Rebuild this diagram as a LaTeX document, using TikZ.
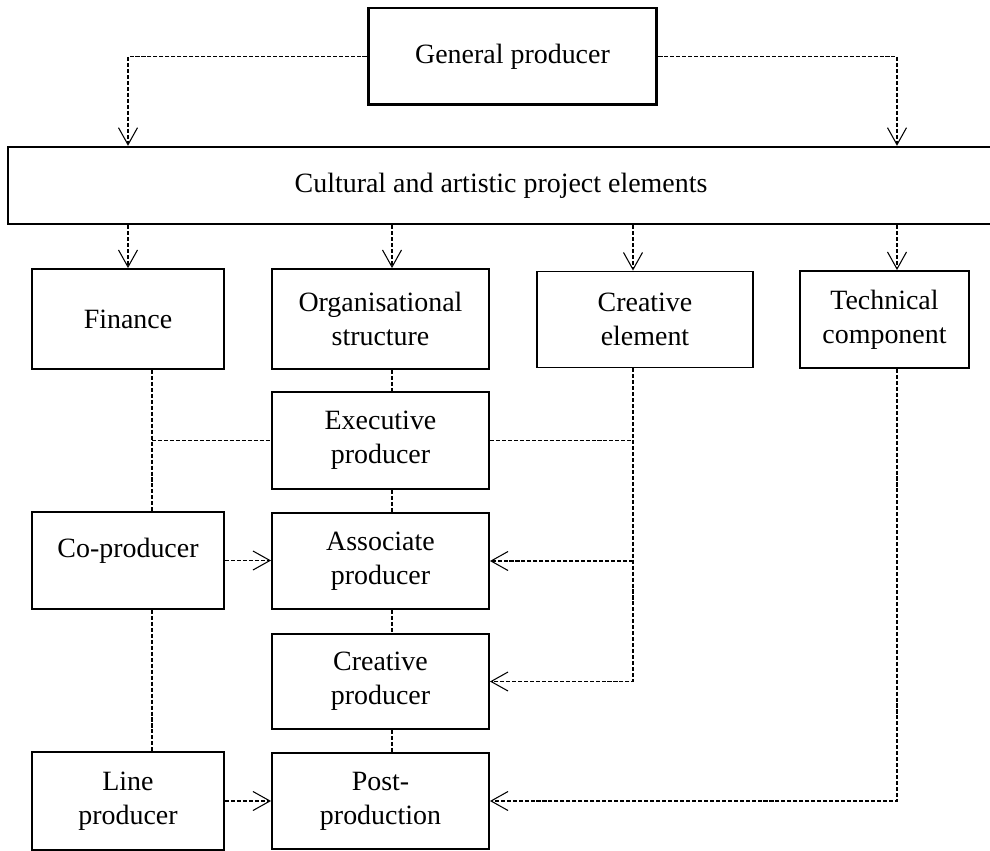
\documentclass[tikz,border=0pt]{standalone}
\usepackage{fontspec}
\setmainfont{Liberation Serif}
\usepackage{tikz}
\usetikzlibrary{arrows.meta}

\begin{document}
\begin{tikzpicture}[x=0.02cm, y=-0.02cm,
    >={Straight Barb[length=3.4mm,width=3.8mm]},
    font=\fontsize{15.9}{19.5}\selectfont,
    box/.style={draw, line width=1.1pt, align=center, inner sep=2pt},
    colL/.style={box, minimum width=3.84cm},
    colM/.style={box, minimum width=4.34cm},
    conn/.style={line width=0.6pt, dash pattern=on 2.3pt off 1.1pt}]
        \useasboundingbox (0,0) rectangle (990,851);
        % top
        \node[box, line width=1.7pt, minimum width=5.78cm, minimum height=1.94cm] (gen) at (512.5,56.5) {General producer};
        \node[box, line width=1.4pt, minimum width=19.72cm, minimum height=1.54cm] (cult) at (501,185.5) {Cultural and artistic project elements};
        % columns
        \coordinate (xfin) at (128,0); \coordinate (xleft) at (152,0);
        \coordinate (xorg) at (392,0); \coordinate (xcre) at (633,0); \coordinate (xtech) at (897,0);
        % first row
        \node[colL, minimum height=2cm] (fin) at (128,319) {Finance};
        \node[colM, minimum height=2cm] (org) at (380.5,319) {Organisational\\structure};
        \node[box, minimum width=4.32cm, minimum height=1.92cm] (cre) at (645,319.5) {Creative\\element};
        \node[box, minimum width=3.38cm, minimum height=1.94cm] (tech) at (884.5,319.5) {Technical\\component};
        % producers
        \node[colM, minimum height=1.94cm] (exec) at (380.5,440.5) {Executive\\producer};
        \node[colL, minimum height=1.94cm, text depth=0.5cm] (coprod) at (128,560.5) {Co-producer};
        \node[colM, minimum height=1.92cm] (assoc) at (380.5,561) {Associate\\producer};
        \node[colM, minimum height=1.9cm] (crprod) at (380.5,681.5) {Creative\\producer};
        \node[colL, minimum height=1.96cm] (lineprod) at (128,801) {Line\\producer};
        \node[colM, minimum height=1.92cm] (post) at (380.5,801) {Post-\\production};

        \draw[conn,->] (gen.west) -| (xfin |- cult.north);
        \draw[conn,->] (gen.east) -| (xtech |- cult.north);
        \foreach \c/\b in {xfin/fin, xorg/org, xcre/cre, xtech/tech}
          \draw[conn,->] (\c |- cult.south) -- (\c |- \b.north);
        % finance side
        \draw[conn] (xleft |- fin.south) -- (xleft |- coprod.north);
        \draw[conn] (xleft |- exec.west) -- (exec.west);
        \draw[conn] (xleft |- coprod.south) -- (xleft |- lineprod.north);
        % chain of producers
        \foreach \a/\b in {org/exec, exec/assoc, assoc/crprod, crprod/post}
          \draw[conn] (xorg |- \a.south) -- (xorg |- \b.north);
        % creative side
        \draw[conn,->] (xcre |- cre.south) |- (crprod.east);
        \draw[conn] (exec.east) -- (xcre |- exec.east);
        \draw[conn,->] (xcre |- assoc.east) -- (assoc.east);
        % technical side
        \draw[conn,->] (xtech |- tech.south) |- (post.east);
        \draw[conn,->] (coprod.east) -- (coprod.east -| assoc.west);
        \draw[conn,->] (lineprod.east) -- (lineprod.east -| post.west);
      \end{tikzpicture}
\end{document}
